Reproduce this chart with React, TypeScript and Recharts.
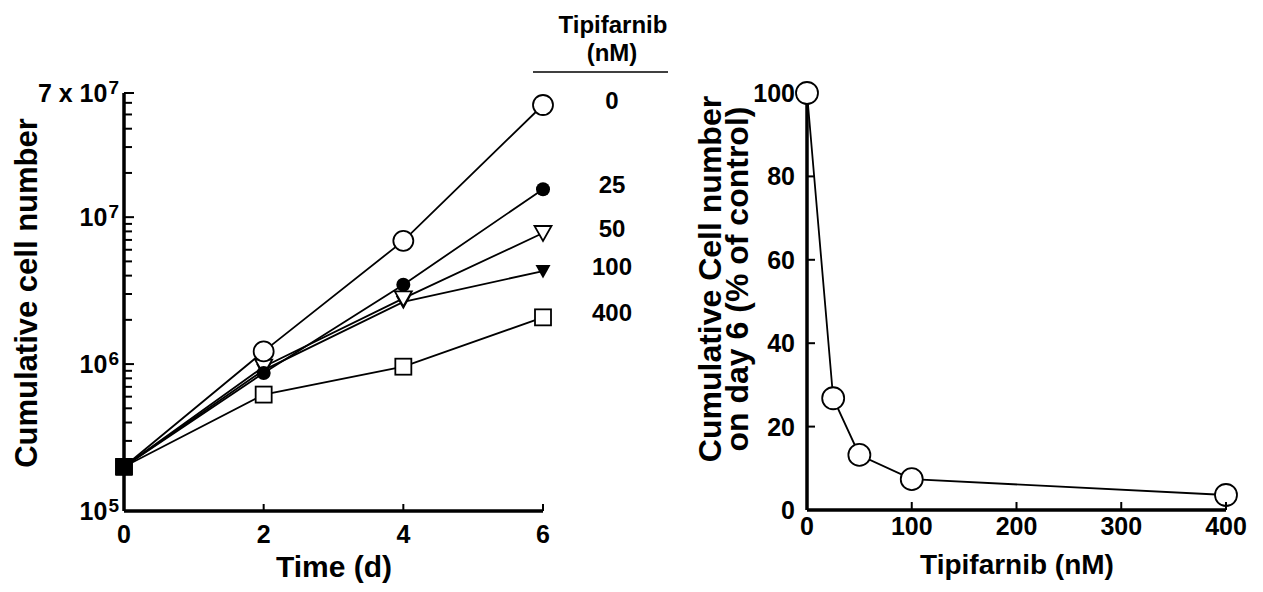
import { LabelList, Line, LineChart, XAxis, YAxis } from 'recharts'

// growth curves: cumulative cell number by day, one list per tipifarnib dose (nM)
const days = [0, 2, 4, 6]
const cells0 = [2.0e5, 1.22e6, 6.9e6, 5.8e7]
const cells25 = [2.0e5, 8.7e5, 3.47e6, 1.55e7]
const cells50 = [2.0e5, 9.6e5, 2.8e6, 7.8e6]
const cells100 = [2.0e5, 9.1e5, 2.65e6, 4.3e6]
const cells400 = [2.0e5, 6.2e5, 9.6e5, 2.08e6]

const dayTicks = [0, 2, 4, 6]
const cellMajorTicks = [1e5, 1e6, 1e7, 7e7]
const cellMajorLabels = [['10', '5'], ['10', '6'], ['10', '7'], ['7 x 10', '7']]
const cellMinorTicks = [
  2e5, 3e5, 4e5, 5e5, 6e5, 7e5, 8e5, 9e5,
  2e6, 3e6, 4e6, 5e6, 6e6, 7e6, 8e6, 9e6,
  2e7, 3e7, 4e7, 5e7, 6e7,
]

// dose response on day 6
const doses = [0, 25, 50, 100, 400]
const percentDay6 = [100, 26.8, 13.2, 7.4, 3.6]
const doseTicks = [0, 100, 200, 300, 400]
const percentTicks = [0, 20, 40, 60, 80, 100]

const FONT = '"Liberation Sans", Arial, Helvetica, sans-serif'

const growthData = days.map((d, i) => ({
  day: d,
  c0: cells0[i],
  c25: cells25[i],
  c50: cells50[i],
  c100: cells100[i],
  c400: cells400[i],
}))

const doseData = doses.map((d, i) => ({ dose: d, pct: percentDay6[i] }))

const allCellTicks = [...cellMajorTicks, ...cellMinorTicks].sort((a, b) => a - b)

type Kind = 'openCircle' | 'filledCircle' | 'openTri' | 'filledTri' | 'openSquare'

function marker(kind: Kind, p: any) {
  const { cx, cy, index } = p
  const key = `${kind}-${index}`
  if (cx == null || cy == null) return <g key={key} />
  if (index === 0) {
    return <rect key={key} x={cx - 8.5} y={cy - 8.5} width={17} height={17} fill="#000" />
  }
  switch (kind) {
    case 'openCircle':
      return <circle key={key} cx={cx} cy={cy} r={10} fill="#fff" stroke="#000" strokeWidth={1.8} />
    case 'filledCircle':
      return <circle key={key} cx={cx} cy={cy} r={7} fill="#000" />
    case 'openTri':
      return (
        <polygon key={key} points={`${cx - 8.5},${cy - 7} ${cx + 8.5},${cy - 7} ${cx},${cy + 8}`}
          fill="#fff" stroke="#000" strokeWidth={1.8} />
      )
    case 'filledTri':
      return (
        <polygon key={key} points={`${cx - 7.5},${cy - 6} ${cx + 7.5},${cy - 6} ${cx},${cy + 7.5}`} fill="#000" />
      )
    default:
      return <rect key={key} x={cx - 8} y={cy - 8} width={16} height={16} fill="#fff" stroke="#000" strokeWidth={1.8} />
  }
}

function endLabel(text: string) {
  return (p: any) => {
    if (p.index !== days.length - 1) return null
    return (
      <text x={p.x + 69} y={p.y + 4} textAnchor="middle" fontFamily={FONT} fontWeight="bold" fontSize={24} fill="#000">
        {text}
      </text>
    )
  }
}

function CellTick(p: any) {
  const { x, y, payload } = p
  const mi = cellMajorTicks.indexOf(payload.value)
  const major = mi >= 0
  return (
    <g>
      <line x1={x} x2={x + (major ? 10 : 8)} y1={y} y2={y} stroke="#000" strokeWidth={2} />
      {major && (
        <text x={x - 5} y={y + 9} textAnchor="end" fontFamily={FONT} fontWeight="bold" fontSize={25} fill="#000">
          {cellMajorLabels[mi][0]}
          <tspan dx={1} dy={-8} fontSize={19}>{cellMajorLabels[mi][1]}</tspan>
        </text>
      )}
    </g>
  )
}

function DayTick(p: any) {
  const { x, y, payload } = p
  return (
    <g>
      {payload.value !== 0 && <line x1={x} x2={x} y1={y} y2={y - 7} stroke="#000" strokeWidth={2} />}
      <text x={x} y={y + 32} textAnchor="middle" fontFamily={FONT} fontWeight="bold" fontSize={25} fill="#000">
        {payload.value}
      </text>
    </g>
  )
}

function DoseTick(p: any) {
  const { x, y, payload } = p
  return (
    <g>
      {payload.value !== 0 && <line x1={x} x2={x} y1={y} y2={y - 8} stroke="#000" strokeWidth={2} />}
      <text x={x} y={y + 25} textAnchor="middle" fontFamily={FONT} fontWeight="bold" fontSize={25} fill="#000">
        {payload.value}
      </text>
    </g>
  )
}

function PercentTick(p: any) {
  const { x, y, payload } = p
  return (
    <g>
      {payload.value !== 0 && payload.value !== 100 && (
        <line x1={x} x2={x + 8} y1={y} y2={y} stroke="#000" strokeWidth={2} />
      )}
      <text x={x - 12} y={y + 9} textAnchor="end" fontFamily={FONT} fontWeight="bold" fontSize={25} fill="#000">
        {payload.value}
      </text>
    </g>
  )
}

const axisLine = { stroke: '#000', strokeWidth: 3.5 }

export default function App() {
  const series: { key: string; kind: Kind; label: string }[] = [
    { key: 'c400', kind: 'openSquare', label: '400' },
    { key: 'c100', kind: 'filledTri', label: '100' },
    { key: 'c50', kind: 'openTri', label: '50' },
    { key: 'c25', kind: 'filledCircle', label: '25' },
    { key: 'c0', kind: 'openCircle', label: '0' },
  ]

  return (
    <div style={{ position: 'absolute', left: 0, top: 0, width: 1263, height: 592, background: '#fff' }}>
      <div style={{ position: 'absolute', left: 0, top: 0 }}>
        <LineChart width={700} height={592} data={growthData} margin={{ top: 93, right: 157, bottom: 21, left: 64 }}>
          <XAxis dataKey="day" type="number" domain={[0, 6]} ticks={dayTicks} interval={0} zIndex={300}
            height={60} axisLine={axisLine} tickLine={false} tickSize={0} tickMargin={0} tick={DayTick} />
          <YAxis type="number" scale="log" domain={[1e5, 7e7]} ticks={allCellTicks} interval={0} zIndex={300}
            width={60} axisLine={axisLine} tickLine={false} tickSize={0} tickMargin={0} tick={CellTick} />
          {series.map(s => (
            <Line key={s.key} dataKey={s.key} type="linear" stroke="#000" strokeWidth={1.8}
              dot={(p: any) => marker(s.kind, p)} activeDot={false} isAnimationActive={false}>
              <LabelList dataKey={s.key} content={endLabel(s.label)} />
            </Line>
          ))}
        </LineChart>
      </div>

      <div style={{ position: 'absolute', left: 700, top: 0 }}>
        <LineChart width={563} height={592} data={doseData} margin={{ top: 93, right: 37, bottom: 22, left: 47 }}>
          <XAxis dataKey="dose" type="number" domain={[0, 400]} ticks={doseTicks} interval={0} zIndex={300}
            height={60} axisLine={axisLine} tickLine={false} tickSize={0} tickMargin={0} tick={DoseTick} />
          <YAxis type="number" domain={[0, 100]} ticks={percentTicks} interval={0} zIndex={300}
            width={60} axisLine={axisLine} tickLine={false} tickSize={0} tickMargin={0} tick={PercentTick} />
          <Line dataKey="pct" type="linear" stroke="#000" strokeWidth={1.8}
            activeDot={false} isAnimationActive={false}
            dot={(p: any) => (
              <circle key={p.index} cx={p.cx} cy={p.cy} r={11} fill="#fff" stroke="#000" strokeWidth={1.8} />
            )} />
        </LineChart>
      </div>

      <svg width={1263} height={592} style={{ position: 'absolute', left: 0, top: 0, pointerEvents: 'none' }}
        fontFamily={FONT} fontWeight="bold" fill="#000">
        <text x={613} y={33} textAnchor="middle" fontSize={24}>Tipifarnib</text>
        <text x={612} y={61} textAnchor="middle" fontSize={24}>(nM)</text>
        <line x1={533} x2={668} y1={72} y2={72} stroke="#000" strokeWidth={1.5} />

        <text x={37} y={293} transform="rotate(-90 37 293)" textAnchor="middle" fontSize={31}>Cumulative cell number</text>
        <text x={334} y={577} textAnchor="middle" fontSize={30}>Time (d)</text>

        <text x={721} y={279} transform="rotate(-90 721 279)" textAnchor="middle" fontSize={32}>Cumulative Cell number</text>
        <text x={748} y={279} transform="rotate(-90 748 279)" textAnchor="middle" fontSize={32}>on day 6 (% of control)</text>
        <text x={1017} y={574} textAnchor="middle" fontSize={28}>Tipifarnib (nM)</text>
      </svg>
    </div>
  )
}
